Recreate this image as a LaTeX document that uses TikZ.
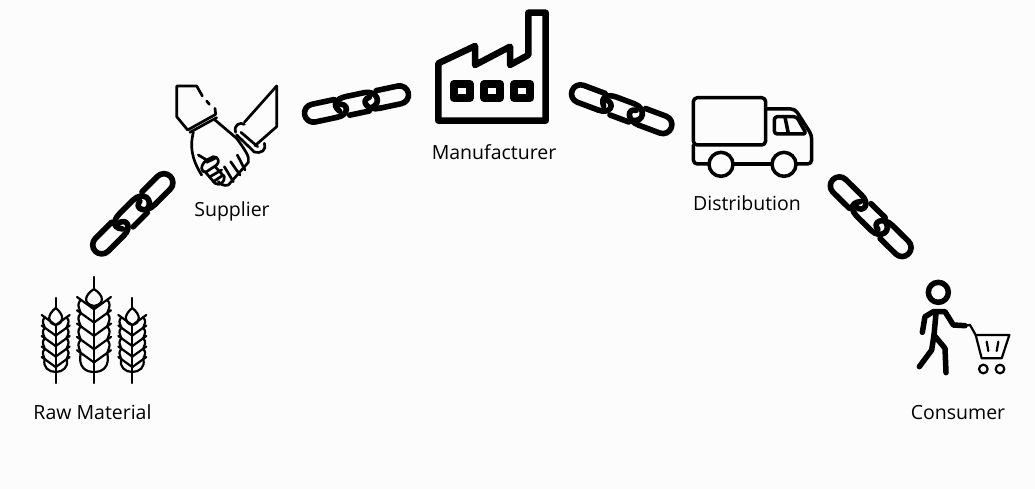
\documentclass[tikz,border=0pt]{standalone}
\usepackage{fontspec}
\setmainfont{Open Sans}
\definecolor{bg}{HTML}{FCFCFC}
\definecolor{ink}{HTML}{000000}
\tikzset{
  label text/.style={font=\fontsize{19.5}{22}\selectfont, text=black, inner sep=0pt, anchor=center},
  icon/.style={draw=ink, line join=round, line cap=round},
  chainline/.style={draw=ink, line width=5.6pt, line cap=round, line join=round},
}
% chain: centre x, centre y, angle, y-mirror
\newcommand{\chainicon}[4]{%
  \begin{scope}[shift={(#1,#2)}, rotate=#3, yscale=#4]
    \draw[chainline, rounded corners=9] (-21,-9) -- (-53,-9) -- (-53,9) -- (-22,9);
    \draw[chainline] (-22,9) .. controls (-9,9.5) and (-7,-3) .. (-18,-3.5);
    \draw[chainline] (-18,3.5) .. controls (-25,-5) and (-18,-9.5) .. (-9,-9.5) -- (10,-9.5) .. controls (23,-9.5) and (26,5) .. (13,7);
    \draw[chainline] (-9,9.5) -- (11,9.5);
    \draw[chainline, rounded corners=9] (22,-9) -- (53,-9) -- (53,9) -- (22,9);
    \draw[chainline] (22,9) .. controls (9,9.5) and (4,-3) .. (14,-4);
  \end{scope}}
% wheat: x, stalk top, head top, head bottom, first tip y, spacing, half width, closing y, stalk bottom
\newcommand{\wheaticon}[9]{%
  \begin{scope}[icon, line width=2.2pt]
    \draw (#1,#2) -- (#1,#3);
    \draw (#1,#4) -- (#1,#9);
    \draw (#1,#3) .. controls ({#1+0.62*#7},{#3+0.4*(#4-#3)}) and ({#1+0.62*#7},{#4-2}) .. (#1,#4)
          .. controls ({#1-0.62*#7},{#4-2}) and ({#1-0.62*#7},{#3+0.4*(#4-#3)}) .. (#1,#3);
    \foreach \s in {-1,1}{
      \foreach \r in {0,1,2,3}{
        \pgfmathsetmacro{\ty}{#5+\r*#6}
        \draw (#1,{\ty+0.72*#7}) -- ({#1+\s*#7},\ty);
        \draw ({#1+\s*0.78*#7},{\ty+0.16*#7}) .. controls ({#1+\s*0.98*#7},{\ty+0.45*#7}) and ({#1+\s*0.95*#7},{\ty+0.6*#6}) .. ({#1+\s*0.78*#7},{\ty+#6+0.16*#7});
      }
      \pgfmathsetmacro{\ty}{#5+4*#6}
      \draw (#1,{\ty+0.72*#7}) -- ({#1+\s*#7},\ty);
      \draw ({#1+\s*0.78*#7},{\ty+0.16*#7}) .. controls ({#1+\s*0.95*#7},{#8-5}) and ({#1+\s*0.5*#7},#8) .. (#1,#8);
    }
  \end{scope}}
\begin{document}
\begin{tikzpicture}[x=1pt,y=-1pt]
\useasboundingbox (0,0) rectangle (1035,489);
\fill[bg] (0,0) rectangle (1035,489);

% chains
\chainicon{132.8}{213.8}{45}{1}
\chainicon{356.5}{104}{12}{1}
\chainicon{621.7}{109.2}{-20.5}{1}
\chainicon{870.7}{216.7}{-44.5}{-1}

% wheat
\wheaticon{55.7}{298}{308}{325}{315}{10.5}{14}{372}{383}
\wheaticon{94}{277}{289}{306}{297}{13.3}{17}{372}{383}
\wheaticon{132.3}{298}{308}{325}{315}{10.5}{14}{372}{383}

% handshake
\begin{scope}[shift={(165,75)}, scale=1/3]
  \begin{scope}[icon, line width=2.7pt]
    \draw (112,63) -- (95,33) -- (35,33) -- (35,125) -- (68,165) -- (152,118) -- (150,100);
    \draw (125,78) -- (133,88);
    \draw (75,172) -- (155,128);
    \draw (85,172) .. controls (75,210) and (78,250) .. (110,300);
    \draw (150,135) -- (215,190);
    \draw (215,180) -- (265,228);
    \draw (228,172) -- (278,215);
    \draw (335,33) -- (335,155) -- (270,212);
    \draw (335,33) -- (238,142);
    \draw (238,148) .. controls (225,140) and (205,150) .. (212,172);
    \draw (298,205) .. controls (305,225) and (290,238) .. (265,230);
    \draw (215,190) .. controls (240,225) and (255,245) .. (250,262) -- (190,330) .. controls (175,335) and (165,325) .. (160,320);
    \draw (100,240) -- (125,255) -- (145,245) .. controls (160,245) and (165,260) .. (155,270) -- (125,290) .. controls (105,295) and (105,270) .. (125,255);
    \draw (120,290) -- (150,325) .. controls (165,335) and (180,320) .. (178,305) -- (150,275);
    \draw (135,305) -- (170,285);
    \draw (145,320) -- (175,300);
    \draw (178,275) -- (205,320);
    \draw (197,260) -- (225,300);
    \draw (217,240) -- (240,285);
    \draw (125,262) -- (150,250);
  \end{scope}
\end{scope}

% factory
\begin{scope}[shift={(425,0)}, scale=1/3]
  \begin{scope}[icon, line width=6.5pt]
    \draw (40,190) -- (150,138) -- (150,195) -- (255,140) -- (255,195) -- (310,165) -- (310,38) -- (362,38) -- (362,362) -- (40,362) -- cycle;
  \end{scope}
  \begin{scope}[icon, line width=8pt]
    \draw (86,252) rectangle (134,294);
    \draw (178,252) rectangle (225,294);
    \draw (268,252) rectangle (316,294);
  \end{scope}
\end{scope}

% truck
\begin{scope}[shift={(685,85)}, scale=1/3]
  \begin{scope}[icon, line width=3.5pt]
    \draw[rounded corners=4] (25,180) -- (25,38) -- (242,38) -- (242,180) -- cycle;
    \draw[rounded corners=4] (72,237) -- (25,237) -- (25,180);
    \draw (145,237) -- (260,237);
    \draw[rounded corners=4] (333,237) -- (380,237) -- (380,150) -- (330,72) -- (242,72);
    \draw (108,238) circle (36);
    \draw (297,238) circle (36);
    \draw[rounded corners=3] (268,95) -- (335,95) -- (364,147) -- (268,147) -- cycle;
    \draw (300,97) -- (310,145);
  \end{scope}
\end{scope}

% consumer
\begin{scope}[shift={(910,275)}, scale=1/3]
  \begin{scope}[icon, line width=5.5pt]
    \draw (85,52) circle (30);
    \draw (37,172) -- (45,125) -- (70,110) -- (105,110) -- (130,150) -- (165,152);
    \draw (78,115) -- (72,180) -- (105,220) -- (108,293);
    \draw (72,180) -- (65,225) -- (28,275);
  \end{scope}
  \begin{scope}[icon, line width=2.2pt]
    \draw (165,152) -- (180,150) -- (197,180);
    \draw (197,180) -- (298,180) -- (275,250) -- (215,250) -- cycle;
    \draw (230,200) -- (235,228);
    \draw (265,200) -- (260,228);
    \draw (220,282) circle (13);
    \draw (270,282) circle (13);
  \end{scope}
\end{scope}

% labels
\node[label text] (rawmaterial) at (92.5,412.3) {Raw Material};
\node[label text] (supplier) at (232,211.5) {Supplier};
\node[label text] (manufacturer) at (494,152.3) {Manufacturer};
\node[label text] (distribution) at (747,203.3) {Distribution};
\node[label text] (consumer) at (958,412.3) {Consumer};
\end{tikzpicture}
\end{document}
